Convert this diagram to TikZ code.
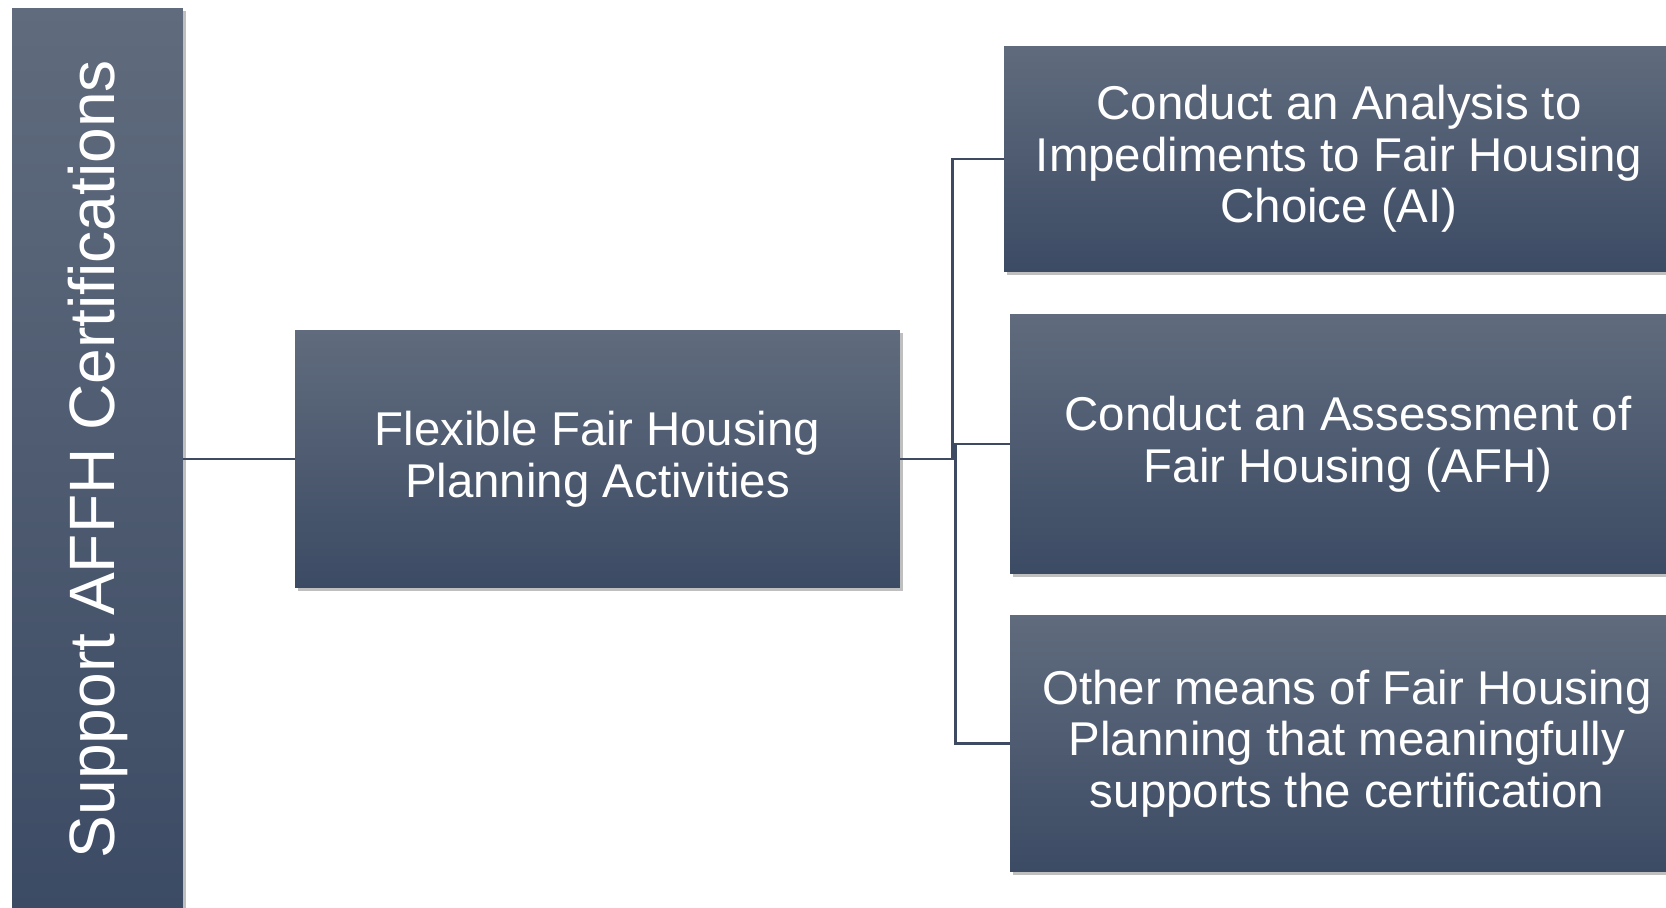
\documentclass[tikz,border=0pt]{standalone}
\usepackage{fontspec}
\setmainfont{Liberation Sans}
\usepackage{tikz}
\usetikzlibrary{shadows}
\definecolor{slatetop}{RGB}{96,107,125}
\definecolor{slatebot}{RGB}{60,75,100}
\definecolor{linkline}{RGB}{61,74,98}
\tikzset{
  planbox/.style = {shape=rectangle, inner sep=0pt, align=center,
                    text=white, top color=slatetop, bottom color=slatebot,
                    drop shadow={shadow xshift=1.5pt, shadow yshift=-1.5pt,
                                 opacity=0.25, fill=black},
                    font=\fontsize{27pt}{29.3pt}\selectfont},
  sidebar/.style = {planbox, font=\fontsize{36.5pt}{40pt}\selectfont},
  link/.style    = {draw=linkline, line width=1.7pt}
}

\begin{document}
\begin{tikzpicture}
  [
    x = 0.02cm,
    y = -0.02cm
  ]
  \useasboundingbox (0,0) rectangle (1666,908);
  \node [sidebar, minimum width=3.42cm, minimum height=18.04cm]
    (cert) at (97.5,459) {\rotatebox{90}{Support AFFH Certifications}};
  \node [planbox, minimum width=12.1cm, minimum height=5.16cm]
    (flex) at (597.5,459) {Flexible Fair Housing\\Planning Activities};
  \node [planbox, minimum width=13.4cm, minimum height=4.52cm]
    (ai) at (1339,159) {Conduct an Analysis to\\Impediments to Fair Housing\\Choice (AI)};
  \node [planbox, minimum width=13.52cm, minimum height=5.2cm]
    (afh) at (1348,444) {Conduct an Assessment of\\Fair Housing (AFH)};
  \node [planbox, minimum width=13.48cm, minimum height=5.14cm]
    (other) at (1347,743.5) {Other means of Fair Housing\\Planning that meaningfully\\supports the certification};

  % elbow joints
  \coordinate (jointA) at (952,459);
  \coordinate (jointB) at (955,459);

  \draw [link] (cert.east) -- (flex.west);
  \draw [link] (flex.east) -- (jointA) |- (ai.west);
  \draw [link] (flex.east) -- (jointB) |- (afh.west);
  \draw [link] (jointB) |- (other.west);
\end{tikzpicture}
\end{document}
